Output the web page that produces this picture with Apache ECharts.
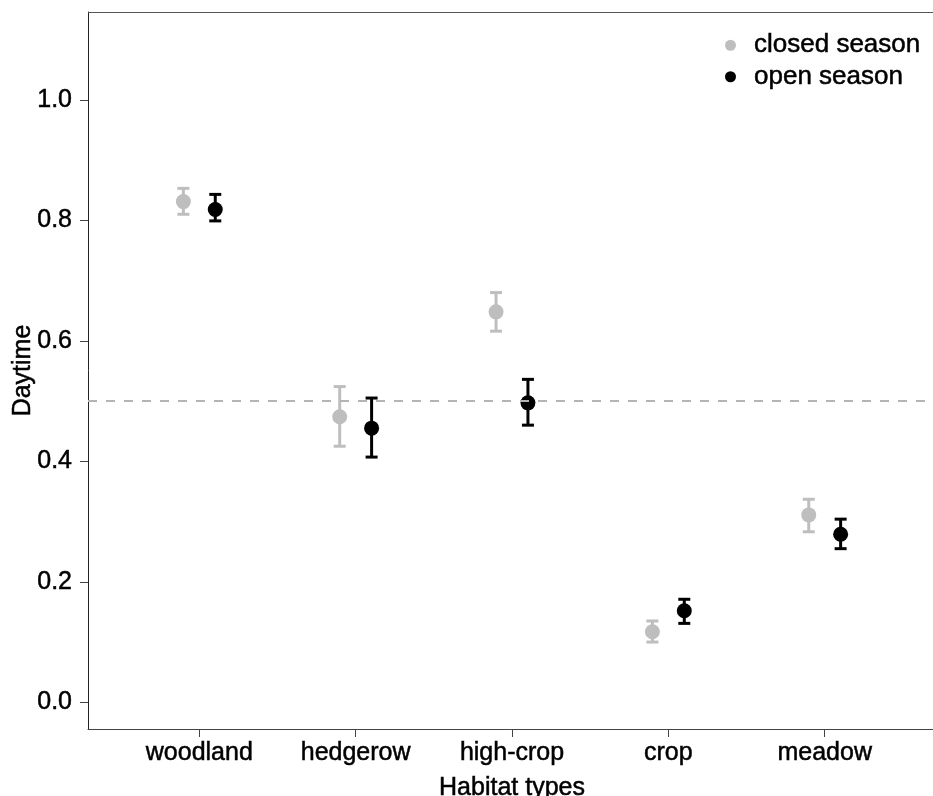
<!DOCTYPE html>
<html><head><meta charset="utf-8">
<script src="https://cdn.jsdelivr.net/npm/echarts@6/dist/echarts.min.js"></script>
<style>html,body{margin:0;padding:0;background:#fff}#c{width:933px;height:796px}</style>
</head><body><div id="c"></div>
<script>
const categories = ['woodland','hedgerow','high-crop','crop','meadow'];
const closedMean = [0.831,0.474,0.648,0.117,0.311];
const closedLow  = [0.810,0.425,0.616,0.100,0.283];
const closedHigh = [0.853,0.524,0.680,0.135,0.337];
const openMean = [0.818,0.455,0.497,0.152,0.279];
const openLow  = [0.799,0.407,0.460,0.131,0.255];
const openHigh = [0.843,0.505,0.536,0.171,0.304];
const yTicks = [0,0.2,0.4,0.6,0.8,1.0];
const refLine = 0.5;
const dodge = 0.102;

const FONT = 'Liberation Sans';
const GREY = '#bebebe', BLACK = '#000000';
const TXT = {fontFamily:FONT, fontSize:25, color:'#000', textBorderColor:'#000', textBorderWidth:0.5};

function errSeries(name, low, high, off, color){
  return {
    type:'custom', name:name+'_err', silent:true, z:2,
    data: categories.map((c,i)=>[i+off, low[i], high[i]]),
    renderItem:function(params, api){
      const x = api.value(0);
      const a = api.coord([x, api.value(1)]);
      const b = api.coord([x, api.value(2)]);
      const w = 6;
      const st = {stroke:color, lineWidth:3};
      return {type:'group', children:[
        {type:'line', shape:{x1:a[0],y1:a[1],x2:b[0],y2:b[1]}, style:st},
        {type:'line', shape:{x1:a[0]-w,y1:a[1],x2:a[0]+w,y2:a[1]}, style:st},
        {type:'line', shape:{x1:b[0]-w,y1:b[1],x2:b[0]+w,y2:b[1]}, style:st}
      ]};
    }
  };
}

const chart = echarts.init(document.getElementById('c'));
chart.setOption({
  animation:false,
  grid:{left:88, right:-3, top:12, bottom:67, show:false, containLabel:false, outerBoundsMode:'none'},
  legend:{
    orient:'vertical', left:720, top:27, itemWidth:11, itemHeight:11, itemGap:5,
    icon:'circle',
    textStyle:Object.assign({}, TXT, {fontSize:26, padding:[0,0,0,13]}),
    data:[{name:'closed season', itemStyle:{color:GREY}},{name:'open season', itemStyle:{color:BLACK}}]
  },
  xAxis:{
    type:'value', min:-0.712, max:4.712,
    name:'Habitat types', nameLocation:'middle', nameGap:47,
    nameTextStyle:TXT,
    axisLine:{show:true, onZero:false, lineStyle:{color:'#444', width:1}},
    axisTick:{show:true, length:8, inside:false, customValues:[0,1,2,3,4], lineStyle:{color:'#444'}},
    axisLabel:Object.assign({customValues:[0,1,2,3,4], margin:12,
      formatter:v=>categories[Math.round(v)]}, TXT),
    splitLine:{show:false}
  },
  yAxis:[{
    type:'value', min:-0.0443, max:1.1457,
    name:'Daytime', nameLocation:'middle', nameGap:52, nameRotate:90, nameMoveOverlap:false,
    nameTextStyle:TXT,
    axisLine:{show:true, onZero:false, lineStyle:{color:'#222', width:1}},
    axisTick:{show:true, length:8, customValues:yTicks, lineStyle:{color:'#444'}},
    axisLabel:Object.assign({customValues:yTicks, margin:16,
      formatter:v=>v.toFixed(1)}, TXT),
    splitLine:{show:false}
  }],
  series:[
    {type:'line', silent:true, data:[], markLine:{silent:true, symbol:'none', label:{show:false},
      lineStyle:{color:'#b4b4b4', type:[9,9], width:2}, data:[{yAxis:refLine}]}},
    {type:'custom', silent:true, data:[[0]], renderItem:function(p, api){
      const tl = api.coord([-0.712, 1.1457]);
      const tr = api.coord([4.712, 1.1457]);
      return {type:'line', shape:{x1:tl[0], y1:tl[1]+0.5, x2:tr[0], y2:tr[1]+0.5}, style:{stroke:'#555', lineWidth:1}};
    }},
    errSeries('closed season', closedLow, closedHigh, -dodge, GREY),
    errSeries('open season', openLow, openHigh, dodge, BLACK),
    {type:'scatter', name:'closed season', symbol:'circle', symbolSize:15, z:3,
      itemStyle:{color:GREY, opacity:1}, data:categories.map((c,i)=>[i-dodge, closedMean[i]])},
    {type:'scatter', name:'open season', symbol:'circle', symbolSize:15, z:3,
      itemStyle:{color:BLACK, opacity:1}, data:categories.map((c,i)=>[i+dodge, openMean[i]])}
  ]
});
</script></body></html>
